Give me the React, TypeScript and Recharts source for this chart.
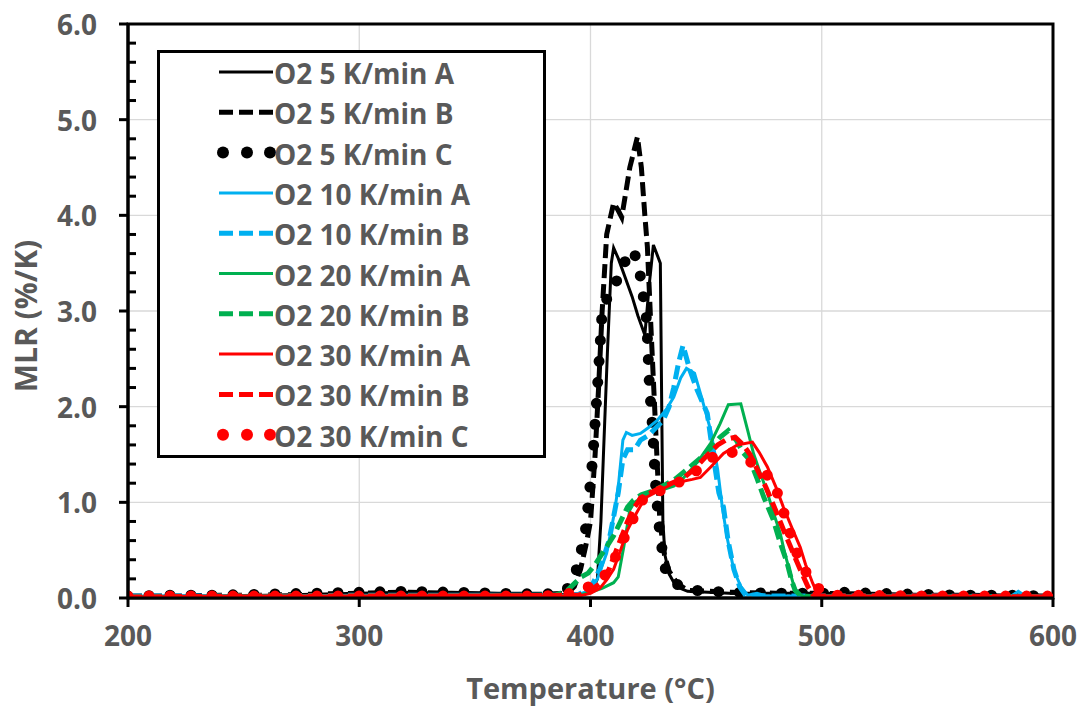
import {
  LineChart,
  Line,
  XAxis,
  YAxis,
  CartesianGrid,
  Legend,
  ReferenceArea,
} from "recharts";

// temperature (°C), MLR (%/K)
const o2_5A: [number, number][] = [
  [200, 0.01], [220, 0.02], [240, 0.02], [260, 0.03], [280, 0.04], [300, 0.05],
  [320, 0.06], [340, 0.05], [360, 0.04], [380, 0.03], [392, 0.04], [398, 0.05],
  [401, 0.1], [403, 0.2], [404.5, 0.8], [405.6, 1.5], [407.3, 2.56], [409, 3.5],
  [410, 3.66], [412, 3.55], [415, 3.35], [418, 3.15], [420.5, 2.95], [423.5, 2.75],
  [425.5, 3.3], [427.2, 3.69], [430.2, 3.5], [430.8, 2.0], [431.3, 0.8], [432.2, 0.45],
  [434, 0.25], [437, 0.12], [442, 0.07], [460, 0.05], [480, 0.05], [500, 0.05],
  [520, 0.04], [540, 0.03], [560, 0.03], [580, 0.02], [600, 0.02],
];

const o2_5B: [number, number][] = [
  [200, 0.02], [220, 0.02], [240, 0.03], [260, 0.03], [280, 0.04], [300, 0.05],
  [320, 0.06], [340, 0.05], [360, 0.04], [380, 0.04], [390, 0.05], [393, 0.12],
  [395.7, 0.3], [398, 0.55], [400, 0.8], [402, 1.5], [403.5, 2.2], [405, 2.98],
  [407, 3.8], [410, 4.13], [412, 4.05], [413.5, 3.98], [415, 4.2], [417, 4.5],
  [420.3, 4.82], [422, 4.5], [423.5, 4.0], [424.6, 3.67], [426, 2.9], [428, 1.86],
  [430, 0.8], [432, 0.45], [434, 0.28], [437.6, 0.15], [442, 0.08], [460, 0.06],
  [480, 0.05], [500, 0.05], [520, 0.04], [540, 0.03], [560, 0.03], [580, 0.02], [600, 0.02],
];

const o2_5C: [number, number][] = [
  [200, 0.02], [220, 0.03], [240, 0.03], [260, 0.04], [280, 0.05], [300, 0.06],
  [320, 0.07], [340, 0.06], [360, 0.05], [380, 0.04], [388, 0.06], [391, 0.12],
  [393.5, 0.26], [396, 0.5], [398, 0.74], [399.5, 1.1], [401, 1.47], [403, 2.2],
  [405, 2.98], [407.8, 3.18], [410, 3.25], [413, 3.4], [417, 3.64], [419, 3.6],
  [421, 3.46], [422.5, 3.2], [424, 2.98], [424.6, 2.73], [425.5, 2.2], [426.8, 1.79],
  [428, 1.23], [429.4, 0.8], [431, 0.5], [432.4, 0.3], [435, 0.18], [439, 0.12],
  [445, 0.08], [460, 0.06], [480, 0.05], [500, 0.05], [510, 0.06], [520, 0.05],
  [540, 0.04], [560, 0.03], [580, 0.03], [600, 0.02],
];

const o2_10A: [number, number][] = [
  [200, 0.02], [250, 0.02], [300, 0.03], [350, 0.03], [390, 0.03], [395, 0.04],
  [400, 0.08], [403, 0.2], [407, 0.47], [410, 0.85], [412, 1.16], [414, 1.65],
  [415.5, 1.73], [418, 1.7], [421.6, 1.72], [425, 1.78], [429, 1.86], [433, 1.98],
  [436, 2.1], [439, 2.3], [441.5, 2.4], [445, 2.35], [448, 2.1], [452, 1.75],
  [455, 1.34], [457, 0.95], [459, 0.64], [462, 0.29], [465, 0.12], [468, 0.03],
  [472, 0.05], [476, 0.02], [500, 0.02], [550, 0.02], [582, 0.02], [585, 0.07],
  [588, 0.02], [600, 0.01],
];

const o2_10B: [number, number][] = [
  [200, 0.02], [250, 0.02], [300, 0.03], [350, 0.03], [390, 0.03], [395, 0.04],
  [400, 0.1], [404, 0.3], [408, 0.6], [412, 1.1], [414, 1.45], [416, 1.55],
  [419, 1.55], [421.6, 1.65], [425, 1.7], [431.5, 1.86], [434, 2.0], [436, 2.2],
  [438, 2.45], [440, 2.64], [443, 2.38], [446, 2.18], [450.5, 1.93], [453, 1.5],
  [455.5, 1.1], [457.5, 0.95], [459.5, 0.6], [462, 0.3], [464.5, 0.12], [467, 0.03],
  [480, 0.02], [500, 0.02], [550, 0.02], [600, 0.01],
];

const o2_20A: [number, number][] = [
  [200, 0.01], [250, 0.02], [300, 0.02], [350, 0.02], [390, 0.02], [395, 0.03],
  [400, 0.06], [405, 0.1], [410, 0.16], [412, 0.22], [414.5, 0.55], [417, 0.92],
  [419, 1.0], [421.6, 1.04], [426, 1.09], [431, 1.13], [436, 1.17], [440, 1.25],
  [444.5, 1.37], [448, 1.48], [452, 1.62], [456, 1.82], [459.6, 2.02], [465, 2.03],
  [468, 1.75], [470.5, 1.51], [473.5, 1.3], [476.5, 1.1], [479, 0.9], [482, 0.68],
  [484, 0.47], [486.4, 0.26], [488, 0.12], [489.4, 0.05], [492, 0.02], [500, 0.01],
  [550, 0.01], [600, 0.01],
];

const o2_20B: [number, number][] = [
  [200, 0.01], [250, 0.02], [300, 0.02], [350, 0.02], [385, 0.03], [390, 0.08],
  [393, 0.15], [396, 0.22], [399, 0.26], [402, 0.35], [406, 0.5], [410, 0.65],
  [413, 0.8], [416, 0.95], [418.5, 1.02], [422, 1.08], [427, 1.12], [432, 1.18],
  [437, 1.25], [442, 1.35], [447, 1.45], [452, 1.57], [456, 1.68], [459.6, 1.75],
  [463, 1.65], [466, 1.52], [469, 1.44], [472, 1.25], [475, 1.05], [479, 0.82],
  [482, 0.58], [485, 0.37], [487, 0.18], [488.5, 0.08], [491, 0.02], [500, 0.01],
  [550, 0.01], [600, 0.01],
];

const o2_30A: [number, number][] = [
  [200, 0.01], [250, 0.02], [300, 0.02], [350, 0.02], [395, 0.02], [400, 0.05],
  [404, 0.1], [407, 0.19], [410, 0.3], [413, 0.5], [416, 0.71], [419, 0.85],
  [422, 0.98], [424.6, 1.06], [428, 1.1], [432, 1.15], [436, 1.2], [440, 1.22],
  [444, 1.24], [447.5, 1.26], [452, 1.37], [457.5, 1.51], [463.5, 1.6], [470, 1.63],
  [473, 1.52], [476.5, 1.37], [480, 1.17], [483.4, 0.95], [487, 0.74], [490.7, 0.53],
  [493, 0.35], [496, 0.16], [498, 0.05], [500, 0.02], [550, 0.02], [600, 0.01],
];

const o2_30B: [number, number][] = [
  [200, 0.01], [250, 0.02], [300, 0.02], [350, 0.02], [395, 0.03], [400, 0.08],
  [404, 0.15], [408, 0.3], [412, 0.55], [416, 0.8], [419, 0.95], [422, 1.05],
  [426, 1.1], [430, 1.15], [435, 1.2], [440, 1.25], [445, 1.35], [450, 1.48],
  [455, 1.6], [459, 1.66], [462.6, 1.68], [466, 1.6], [469, 1.5], [472, 1.35],
  [476, 1.15], [480, 0.92], [484, 0.68], [488, 0.45], [491, 0.28], [494, 0.12],
  [496, 0.04], [500, 0.02], [550, 0.02], [600, 0.01],
];

const o2_30C: [number, number][] = [
  [200, 0.02], [220, 0.02], [240, 0.02], [260, 0.02], [280, 0.02], [300, 0.02],
  [320, 0.02], [340, 0.02], [360, 0.02], [380, 0.02], [392, 0.05], [395, 0.1],
  [400, 0.12], [404, 0.18], [407, 0.26], [410, 0.38], [412, 0.5], [415, 0.65],
  [418, 0.81], [421, 0.95], [423, 1.05], [426, 1.06], [430, 1.12], [436, 1.2],
  [440, 1.22], [444.5, 1.3], [448, 1.38], [452.7, 1.47], [457, 1.52], [460.5, 1.53],
  [465, 1.48], [470, 1.41], [474, 1.33], [477.7, 1.26], [480, 1.15], [482, 1.02],
  [485, 0.78], [487.7, 0.57], [490, 0.42], [492, 0.32], [495, 0.2], [498, 0.12],
  [500, 0.06], [505, 0.03], [550, 0.02], [600, 0.02],
];

const xTicks = [200, 300, 400, 500, 600];
const yMajor = [0, 1, 2, 3, 4, 5, 6];
// all y ticks, major and minor (every 0.2)
const yTicks = [
  0, 0.2, 0.4, 0.6, 0.8, 1, 1.2, 1.4, 1.6, 1.8, 2, 2.2, 2.4, 2.6, 2.8, 3,
  3.2, 3.4, 3.6, 3.8, 4, 4.2, 4.4, 4.6, 4.8, 5, 5.2, 5.4, 5.6, 5.8, 6,
];
const gridY = [1, 2, 3, 4, 5];
const gridX = [300, 400, 500];

type Style = "solid" | "dash" | "dot";

const series: { name: string; color: string; style: Style; data: [number, number][] }[] = [
  { name: "O2 5 K/min A", color: "#000000", style: "solid", data: o2_5A },
  { name: "O2 5 K/min B", color: "#000000", style: "dash", data: o2_5B },
  { name: "O2 5 K/min C", color: "#000000", style: "dot", data: o2_5C },
  { name: "O2 10 K/min A", color: "#00B0F0", style: "solid", data: o2_10A },
  { name: "O2 10 K/min B", color: "#00B0F0", style: "dash", data: o2_10B },
  { name: "O2 20 K/min A", color: "#00B050", style: "solid", data: o2_20A },
  { name: "O2 20 K/min B", color: "#00B050", style: "dash", data: o2_20B },
  { name: "O2 30 K/min A", color: "#FF0000", style: "solid", data: o2_30A },
  { name: "O2 30 K/min B", color: "#FF0000", style: "dash", data: o2_30B },
  { name: "O2 30 K/min C", color: "#FF0000", style: "dot", data: o2_30C },
];

const FONT = "'Open Sans', Lato, sans-serif";
const GRAY = "#595959";
const Y_TICK_SIZE = 9;
const Y_TICK_MARGIN = 22;

const lineStyle = (s: Style) => {
  if (s === "dash") return { strokeWidth: 5, strokeDasharray: "14 6" };
  if (s === "dot") return { strokeWidth: 11, strokeDasharray: "0 21", strokeLinecap: "round" as const };
  return { strokeWidth: 3 };
};

// major ticks outside with a label, minor ticks inside the plot
const YTick = (props: any) => {
  const { x, y, payload } = props;
  const axisX = x + Y_TICK_SIZE + Y_TICK_MARGIN;
  const v = payload.value as number;
  const major = yMajor.some((m) => Math.abs(m - v) < 1e-6);
  if (!major) {
    return <line x1={axisX} x2={axisX + 8} y1={y} y2={y} stroke="#000" strokeWidth={3} />;
  }
  return (
    <g>
      <line x1={axisX - Y_TICK_SIZE} x2={axisX} y1={y} y2={y} stroke="#000" strokeWidth={3} />
      <text
        x={x}
        y={y}
        textAnchor="end"
        dominantBaseline="central"
        fontFamily={FONT}
        fontWeight={700}
        fontSize={28}
        fill={GRAY}
      >
        {v.toFixed(1)}
      </text>
    </g>
  );
};

const LegendBox = () => {
  const rowH = 40.3;
  return (
    <svg width={389} height={408} style={{ display: "block" }}>
      <rect x={1.5} y={1.5} width={386} height={405} fill="#fff" stroke="#000" strokeWidth={3} />
      {series.map((s, i) => {
        const cy = 22 + i * rowH;
        return (
          <g key={s.name}>
            {s.style === "dot" ? (
              [66, 90, 113].map((cx) => <circle key={cx} cx={cx} cy={cy} r={6} fill={s.color} />)
            ) : (
              <line
                x1={62}
                x2={116}
                y1={cy}
                y2={cy}
                stroke={s.color}
                {...lineStyle(s.style)}
                strokeWidth={s.style === "dash" ? 5 : 3}
              />
            )}
            <text
              x={117}
              y={cy + 1}
              dominantBaseline="central"
              fontFamily={FONT}
              fontWeight={700}
              fontSize={28}
              fill={GRAY}
            >
              {s.name}
            </text>
          </g>
        );
      })}
    </svg>
  );
};

export default function App() {
  return (
    <div style={{ position: "absolute", left: 0, top: 0, background: "#fff" }}>
      <LineChart width={1082} height={708} margin={{ top: 24, right: 29, bottom: 0, left: 0 }}>
        <CartesianGrid stroke="#d9d9d9" strokeWidth={1.3} horizontalValues={gridY} verticalValues={gridX} />
        <XAxis
          dataKey="t"
          type="number"
          domain={[200, 600]}
          ticks={xTicks}
          allowDataOverflow
          height={110}
          tickSize={9}
          tickMargin={19}
          axisLine={{ stroke: "#000", strokeWidth: 3 }}
          tickLine={{ stroke: "#000", strokeWidth: 3 }}
          tick={{ fill: GRAY, fontFamily: FONT, fontWeight: 700, fontSize: 28 }}
          label={{
            content: ({ viewBox }: any) => (
              <text
                x={viewBox.x + viewBox.width / 2}
                y={viewBox.y + 89}
                textAnchor="middle"
                dominantBaseline="central"
                fontFamily={FONT}
                fontWeight={700}
                fontSize={29}
                fill={GRAY}
              >
                Temperature (°C)
              </text>
            ),
          }}
        />
        <YAxis
          type="number"
          domain={[0, 6]}
          ticks={yTicks}
          interval={0}
          allowDataOverflow
          width={128}
          tickSize={Y_TICK_SIZE}
          tickMargin={Y_TICK_MARGIN}
          axisLine={{ stroke: "#000", strokeWidth: 3 }}
          tickLine={false}
          tick={<YTick />}
          label={{
            content: ({ viewBox }: any) => {
              const x = viewBox.x + 25;
              const y = viewBox.y + viewBox.height / 2 + 5;
              return (
                <text
                  x={x}
                  y={y}
                  transform={`rotate(-90 ${x} ${y})`}
                  textAnchor="middle"
                  dominantBaseline="central"
                  fontFamily={FONT}
                  fontWeight={700}
                  fontSize={30}
                  fill={GRAY}
                >
                  MLR (%/K)
                </text>
              );
            },
          }}
        />
        <ReferenceArea x1={200} x2={600} y1={0} y2={6} fill="none" stroke="#000" strokeWidth={3} ifOverflow="visible" />
        {series.map((s) => (
          <Line
            key={s.name}
            name={s.name}
            data={s.data.map(([t, v]) => ({ t, v }))}
            dataKey="v"
            type="linear"
            stroke={s.color}
            dot={false}
            activeDot={false}
            isAnimationActive={false}
            {...lineStyle(s.style)}
          />
        ))}
        <Legend
          layout="vertical"
          align="center"
          verticalAlign="middle"
          wrapperStyle={{ left: 157, top: 50, width: 389, height: 408 }}
          content={() => <LegendBox />}
        />
      </LineChart>
    </div>
  );
}
